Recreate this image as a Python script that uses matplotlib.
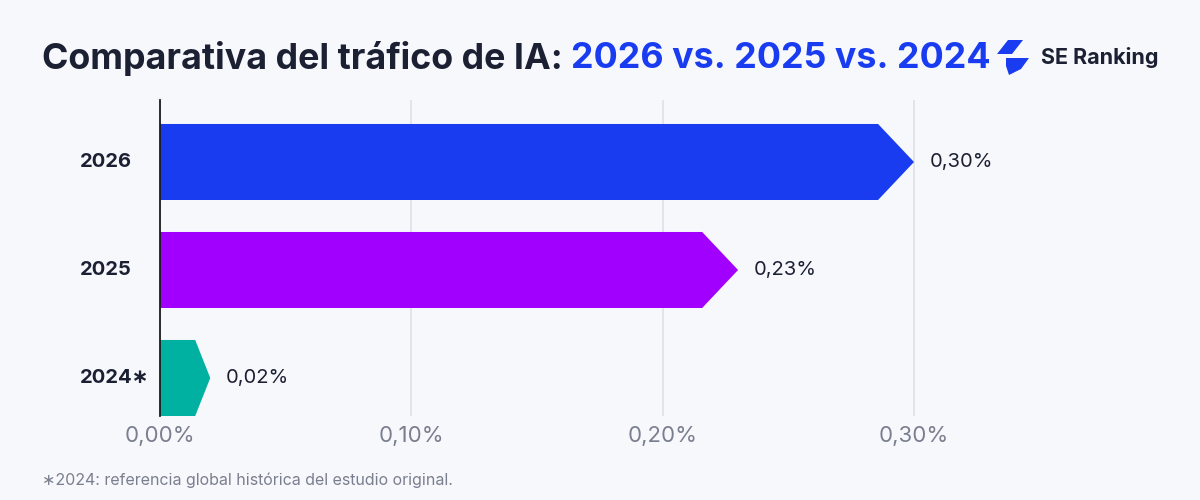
import matplotlib.pyplot as plt
from matplotlib.patches import Polygon
from matplotlib.transforms import blended_transform_factory

years = ['2024∗', '2025', '2026']
traffic = [0.02, 0.23, 0.30]
colors = ['#00b0a0', '#a100fe', '#1a3cf1']
xticks = [0.0, 0.1, 0.2, 0.3]
xtick_labels = ['0,00%', '0,10%', '0,20%', '0,30%']

bg = '#f7f8fc'
dark = '#1b2033'
blue = '#1a3cf1'

plt.rcParams['font.family'] = ['Inter', 'DejaVu Sans']

fig = plt.figure(figsize=(12, 5), dpi=100, facecolor=bg)
ax = fig.add_axes([160 / 1200, 0.168, 0.754, 0.632], facecolor=bg)

half = 0.352
for i, (v, c) in enumerate(zip(traffic, colors)):
    tip = min(0.0143, 0.3 * v)
    pts = [(0, i - half), (v - tip, i - half), (v, i), (v - tip, i + half), (0, i + half)]
    ax.add_patch(Polygon(pts, closed=True, facecolor=c, edgecolor='none', zorder=3))
    ax.annotate(f'{v:.2f}'.replace('.', ',') + '%', (v, i), xytext=(11.5, 0),
                textcoords='offset points', va='center', ha='left',
                fontsize=14.5, color=dark, zorder=4)

ax.set_xlim(0, 0.36)
ax.set_ylim(-half, 2.574)
ax.set_xticks(xticks)
ax.set_xticklabels(xtick_labels, fontsize=16, color='#7a7f8f')
ax.tick_params(axis='x', length=0, pad=7)
ax.set_yticks([])
ax.grid(axis='x', color='#dfe2ea', linewidth=1.3, zorder=0)
for s in ['top', 'right', 'bottom']:
    ax.spines[s].set_visible(False)
ax.spines['left'].set_color('#1b1b1b')
ax.spines['left'].set_linewidth(1.3)
ax.spines['left'].set_zorder(5)

trans = blended_transform_factory(fig.transFigure, ax.transData)
for i, y in enumerate(years):
    ax.text(80 / 1200, i, y, transform=trans, ha='left', va='center',
            fontsize=14.5, fontweight='bold', color=dark)

# title in two colours
t1 = fig.text(42 / 1200, 1 - 59 / 500, 'Comparativa del tráfico de IA: ', fontsize=25.8,
              fontweight='bold', color=dark, va='center', ha='left')
fig.canvas.draw()
w = t1.get_window_extent().width
fig.text(42 / 1200 + w / 1200, 1 - 59 / 500, '2026 vs. 2025 vs. 2024', fontsize=25.8,
         fontweight='bold', color=blue, va='center', ha='left')

# logo
icon_top = [(997, 54), (1008, 40), (1023, 40), (1012, 54)]
icon_bot = [(1006, 58), (1029, 58), (1021, 69), (1009, 75), (1006, 66)]
for poly in (icon_top, icon_bot):
    fig.add_artist(Polygon([(x / 1200, 1 - y / 500) for x, y in poly], closed=True,
                           facecolor=blue, edgecolor='none', transform=fig.transFigure))
fig.text(1041 / 1200, 1 - 57 / 500, 'SE Ranking', fontsize=15.5, fontweight='bold',
         color=dark, va='center', ha='left')

fig.text(42 / 1200, 1 - 480 / 500, '∗2024: referencia global histórica del estudio original.',
         fontsize=11.5, color='#7a7f8f', va='center', ha='left')

fig.savefig('out.png', dpi=100, facecolor=bg)
